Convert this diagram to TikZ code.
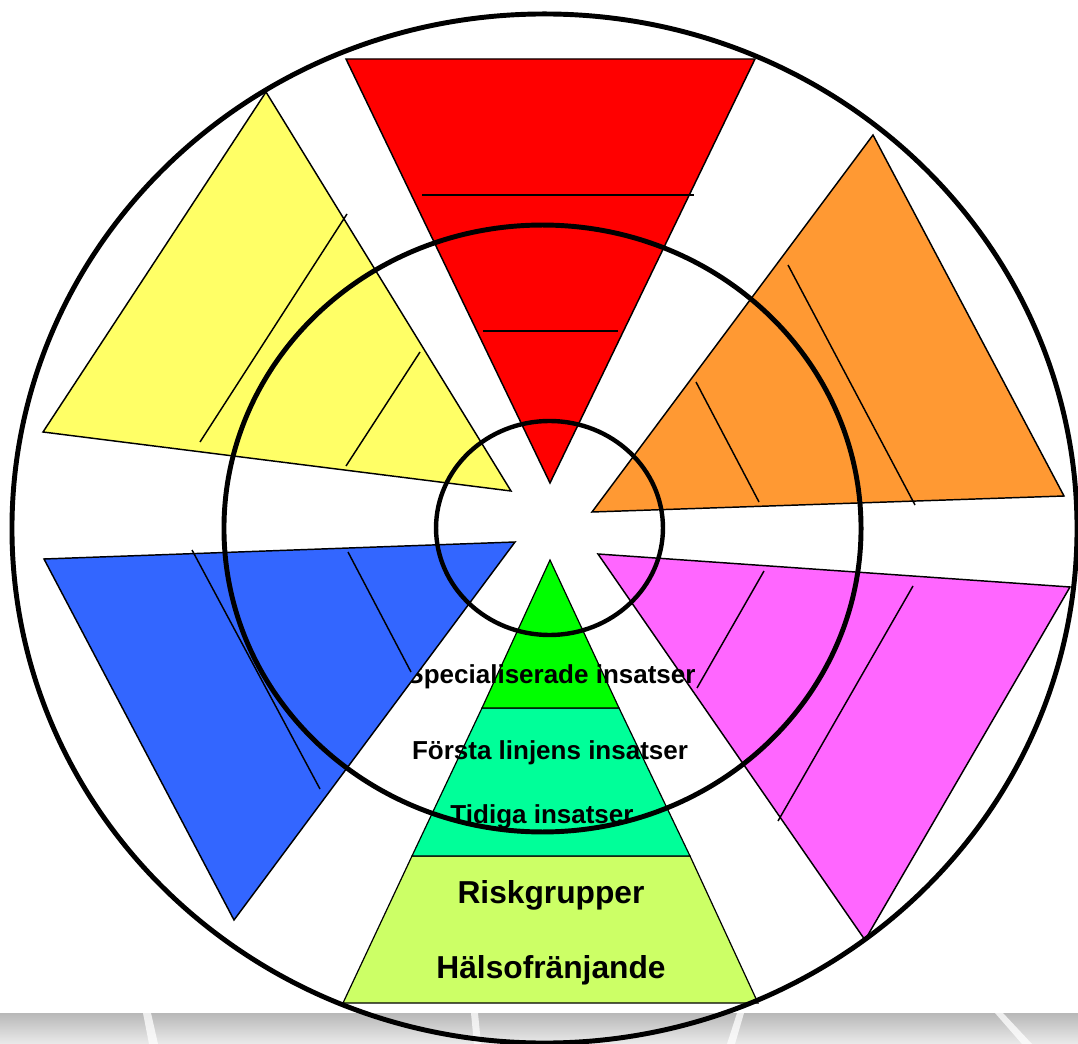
\documentclass[tikz,border=0pt]{standalone}
\usepackage{fontspec}
\setmainfont{Liberation Sans}
\definecolor{cred}{HTML}{FF0000}
\definecolor{cyellow}{HTML}{FFFF66}
\definecolor{corange}{HTML}{FF9933}
\definecolor{cblue}{HTML}{3366FF}
\definecolor{cmagenta}{HTML}{FF66FF}
\definecolor{pyrA}{HTML}{00FF00}
\definecolor{pyrB}{HTML}{00FF99}
\definecolor{pyrC}{HTML}{CCFF66}
\begin{document}
\begin{tikzpicture}[x=0.75pt,y=-0.75pt,
  tri/.style={draw=black, line width=1.1pt, line join=miter},
  ln/.style={draw=black, line width=1.1pt},
  pyr/.style={draw=black, line width=0.9pt},
  ring/.style={draw=black, line width=3.7pt},
  smalltxt/.style={font=\bfseries\fontsize{19.5}{21}\selectfont, anchor=base, inner sep=0pt},
  bigtxt/.style={font=\bfseries\fontsize{23.8}{26}\selectfont, anchor=base, inner sep=0pt},
  streak/.style={fill=white, opacity=0.75}]
\useasboundingbox (0,0) rectangle (1078,1044);
\fill[white] (0,0) rectangle (1078,1044);
% floor band
\shade[top color=black!28, bottom color=black!8] (0,1013) rectangle (1078,1044);
\fill[streak] (143,1013) -- (151,1013) -- (158,1044) -- (149,1044) -- cycle;
\fill[streak] (471,1013) -- (478,1013) -- (481,1044) -- (474,1044) -- cycle;
\fill[streak] (737,1013) -- (744,1013) -- (735,1044) -- (727,1044) -- cycle;
\fill[streak] (995,1013) -- (1003,1013) -- (1032,1044) -- (1022,1044) -- cycle;
% red
\filldraw[tri, fill=cred] (346,59) -- (755,59) -- (550,483) -- cycle;
\draw[ln] (422,195) -- (694,195);
\draw[ln] (483,331) -- (618,331);
% yellow
\filldraw[tri, fill=cyellow] (266,92) -- (511,491) -- (43,432) -- cycle;
\draw[ln] (347,214) -- (200,442);
\draw[ln] (420,352) -- (346,466);
% orange
\filldraw[tri, fill=corange] (873,135) -- (1064,496) -- (592,512) -- cycle;
\draw[ln] (788,265) -- (915,505);
\draw[ln] (696,382) -- (759,502);
% magenta
\filldraw[tri, fill=cmagenta] (598,554) -- (1070,587) -- (865,940) -- cycle;
\draw[ln] (764,571) -- (697,688);
\draw[ln] (913,586) -- (778,821);
% pyramid
\filldraw[pyr, fill=pyrC] (343,1003) -- (758,1003) -- (690,856) -- (412,856) -- cycle;
\filldraw[pyr, fill=pyrB] (412,856) -- (690,856) -- (619,708) -- (482,708) -- cycle;
\filldraw[pyr, fill=pyrA] (482,708) -- (619,708) -- (550,560) -- cycle;
% texts
\node[smalltxt] (spec) at (551,683) {Specialiserade insatser};
\node[smalltxt] (forsta) at (550,759) {Första linjens insatser};
\node[smalltxt] (tidiga) at (542,823) {Tidiga insatser};
\node[bigtxt] (risk) at (551,903) {Riskgrupper};
\node[bigtxt] (halso) at (551,978) {Hälsofränjande};
% blue (drawn over the text)
\filldraw[tri, fill=cblue] (44,559) -- (515,542) -- (234,920) -- cycle;
\draw[ln] (192,550) -- (320,789);
\draw[ln] (348,552) -- (411,672);
% rings
\draw[ring] (544.5,528.5) ellipse [x radius=399.4pt, y radius=385.9pt];
\draw[ring] (542.5,528.5) ellipse [x radius=238.9pt, y radius=227.6pt];
\draw[ring, line width=3.3pt] (549.5,528) ellipse [x radius=85.1pt, y radius=80.25pt];
\end{tikzpicture}
\end{document}
